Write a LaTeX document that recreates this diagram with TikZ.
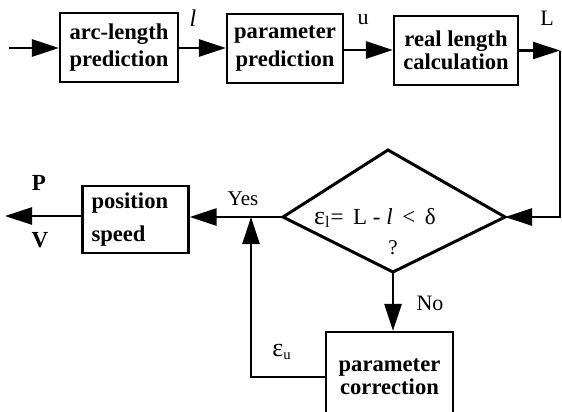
\documentclass[tikz,border=0pt]{standalone}
\usepackage{fontspec}
\setmainfont{Liberation Serif}
\usetikzlibrary{arrows.meta}
\begin{document}
\begin{tikzpicture}[x=0.5pt,y=-0.5pt,
  box/.style={draw, line width=1.2pt, inner sep=0pt, align=center,
    minimum height=34.5pt, font=\fontsize{11.3}{13.5}\selectfont\bfseries},
  conn/.style={line width=1.4pt, -{Triangle[length=13.5pt,width=8.5pt]}},
  lab/.style={inner sep=0pt, font=\fontsize{10.5}{12}\selectfont},
  blab/.style={inner sep=0pt, font=\fontsize{11.5}{12}\selectfont\bfseries}]
\useasboundingbox (0,0) rectangle (562,412);
\clip (0,0) rectangle (562,412);
% boxes
\node[box, minimum width=59pt] (b1) at (119,47.5) {arc-length\\prediction};
\node[box, minimum width=58pt, font=\fontsize{11.3}{14}\selectfont\bfseries] (b2) at (285,48.5) {parameter\\prediction};
\node[box, minimum width=62pt, font=\fontsize{11.3}{11.5}\selectfont\bfseries] (b3) at (456,50.5) {real length\\calculation};
\node[box, align=left, text width=44pt, inner xsep=4.5pt, minimum height=33.5pt,
  font=\fontsize{11.3}{16.5}\selectfont\bfseries] (pos) at (135.5,219.5) {position\\speed};
\node[box, minimum width=63.5pt, minimum height=45pt,
  font=\fontsize{11.3}{11.5}\selectfont\bfseries] (pc) at (389.5,377) {parameter\\correction};
% diamond
\coordinate (dT) at (388,150);
\coordinate (dL) at (283,217);
\coordinate (dR) at (505,217);
\coordinate (dB) at (393,272);
\draw[line width=1.5pt, line join=miter] (dT) -- (dR) -- (dB) -- (dL) -- cycle;
\node[lab, font=\fontsize{11.5}{12}\selectfont] (eq) at (375,218) {{\fontsize{13}{13}\selectfont ε}\textsubscript{l}=\, L - \textit{l} \,<\, δ};
\node[lab] (q) at (393,248) {?};
% helper coordinates
\coordinate (in) at (9,48);
\coordinate (c1) at (560,50.5);
\coordinate (c2) at (560,217);
\coordinate (j) at (251,217);
\coordinate (out) at (5,216);
% connectors
\draw[conn] (in) -- (b1.west |- in);
\draw[conn] (b1.east |- in) -- (b2.west |- in);
\draw[conn] (b2.east |- 0,50) -- (b3.west |- 0,50);
\draw[conn] (b3.east |- c1) -- (c1);
\draw[conn] (c1) -- (c2) -- (dR);
\draw[conn] (dL) -- (pos.east |- dL);
\draw[conn] (pos.west |- out) -- (out);
\draw[conn] (dB) -- (dB |- pc.north);
\draw[conn] (pc.west |- 0,377) -- (j |- pc.west) -- (j);
% labels
\node[lab, font=\fontsize{12}{12}\selectfont\itshape] (ll) at (193,18) {l};
\node[lab, font=\fontsize{11}{12}\selectfont] (lu) at (363,20) {u};
\node[lab, font=\fontsize{11}{12}\selectfont] (lL) at (547,18) {L};
\node[blab] (lP) at (39,183) {P};
\node[blab] (lV) at (40,240) {V};
\node[lab] (lyes) at (243,199) {Yes};
\node[lab, font=\fontsize{11}{12}\selectfont] (lno) at (430,303) {No};
\node[lab] (leu) at (282,352) {{\fontsize{13}{13}\selectfont ε}\textsubscript{u}};
\end{tikzpicture}
\end{document}
